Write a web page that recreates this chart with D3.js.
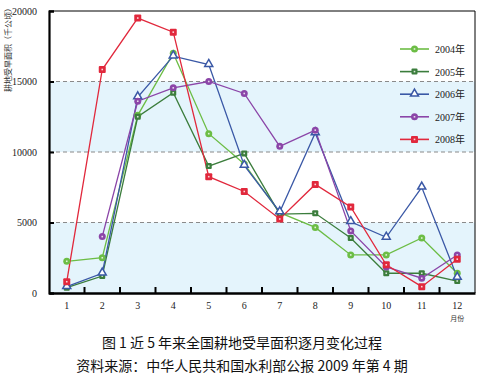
<!DOCTYPE html>
<html>
<head>
<meta charset="utf-8">
<script src="https://cdn.jsdelivr.net/npm/d3@7"></script>
<style>
  body { margin: 0; background: #fff; }
  svg { display: block; }
</style>
</head>
<body>
<div id="chart"></div>
<script>
// data (千公顷)
const months = ["1", "2", "3", "4", "5", "6", "7", "8", "9", "10", "11", "12"];
const yTicks = [0, 5000, 10000, 15000, 20000];
const years = ["2004年", "2005年", "2006年", "2007年", "2008年"];
const v2004 = [2250, 2500, 12600, 17000, 11300, 9150, 5700, 4650, 2700, 2700, 3900, 1400];
const v2005 = [380, 1200, 12500, 14200, 9000, 9900, 5600, 5650, 3900, 1400, 1400, 850];
const v2006 = [450, 1400, 13900, 16800, 16200, 9050, 5750, 11350, 5050, 3950, 7500, 1100];
const v2007 = [null, 4000, 13600, 14550, 15000, 14150, 10400, 11550, 4400, 1850, 1050, 2700];
const v2008 = [800, 15850, 19500, 18500, 8250, 7200, 5250, 7700, 6100, 2000, 450, 2400];

const seriesValues = [v2004, v2005, v2006, v2007, v2008];
const colors = ["#6cbd45", "#3b7d3c", "#3a58a6", "#8b45a8", "#e1283c"];
const markers = ["circle", "square", "triangle", "circle", "square"];

const W = 484, H = 377;
const margin = { top: 11, right: 9, bottom: 84, left: 49 };
const width = W - margin.left - margin.right;
const height = H - margin.top - margin.bottom;

const svg = d3.select("#chart").append("svg")
    .attr("width", W)
    .attr("height", H);

const g = svg.append("g")
    .attr("transform", `translate(${margin.left},${margin.top})`);

const x = d3.scaleBand().domain(months).range([0, width]);
const y = d3.scaleLinear().domain([0, 20000]).range([height, 0]);

// light blue bands
[[0, 5000], [10000, 15000]].forEach(b => {
    g.append("rect")
        .attr("x", 0)
        .attr("y", y(b[1]))
        .attr("width", width)
        .attr("height", y(b[0]) - y(b[1]))
        .attr("fill", "#e4f4fc");
});

// dashed grid
g.selectAll(".grid")
    .data([5000, 10000, 15000])
    .enter()
    .append("line")
    .attr("class", "grid")
    .attr("x1", 0)
    .attr("x2", width)
    .attr("y1", d => y(d))
    .attr("y2", d => y(d))
    .attr("stroke", "#8a8a8a")
    .attr("stroke-dasharray", "4,3")
    .attr("stroke-width", 1);

// top / right border
g.append("path")
    .attr("d", `M0,0H${width}V${height}`)
    .attr("fill", "none")
    .attr("stroke", "#000")
    .attr("stroke-width", 1);

// lines
const line = d3.line()
    .defined(d => d != null)
    .x((d, i) => x(months[i]) + x.bandwidth() / 2)
    .y(d => y(d));

seriesValues.forEach((vals, k) => {
    g.append("path")
        .datum(vals)
        .attr("fill", "none")
        .attr("stroke", colors[k])
        .attr("stroke-width", 1.3)
        .attr("d", line);
});

function drawMarker(sel, k) {
    const c = colors[k];
    if (markers[k] === "triangle") {
        sel.append("path")
            .attr("d", d3.symbol().type(d3.symbolTriangle).size(28)())
            .attr("transform", "translate(0,-0.5)")
            .attr("fill", "#fff")
            .attr("stroke", c)
            .attr("stroke-width", 1.5);
    } else {
        const r = markers[k] === "circle" ? 3.5 : 1;
        const s = k === 1 ? 6 : 7;
        sel.append("rect")
            .attr("x", -s / 2).attr("y", -s / 2)
            .attr("width", s).attr("height", s)
            .attr("rx", r)
            .attr("fill", c);
        sel.append("rect")
            .attr("x", -0.8).attr("y", -0.8)
            .attr("width", 1.6).attr("height", 1.6)
            .attr("fill", "#fff")
            .attr("opacity", 0.8);
    }
}

seriesValues.forEach((vals, k) => {
    const pts = g.selectAll(".pt" + k)
        .data(vals.map((v, i) => ({ v, m: months[i] })).filter(d => d.v != null))
        .enter()
        .append("g")
        .attr("class", "pt" + k)
        .attr("transform", d => `translate(${x(d.m) + x.bandwidth() / 2},${y(d.v)})`);
    pts.each(function() { drawMarker(d3.select(this), k); });
});

// axes
const yAxis = g.append("g")
    .call(d3.axisLeft(y).tickValues(yTicks).tickSize(-5).tickPadding(12).tickFormat(d3.format("d")));
yAxis.select(".domain").attr("stroke-width", 2.2);
yAxis.selectAll(".tick line").attr("stroke-width", 2);
yAxis.selectAll("text")
    .attr("font-family", "Liberation Serif, serif")
    .attr("font-size", 10)
    .attr("fill", "#222");

const xAxis = g.append("g")
    .attr("transform", `translate(0,${height})`)
    .call(d3.axisBottom(x).tickSize(0).tickPadding(9));
xAxis.select(".domain").attr("stroke-width", 2.4);
xAxis.selectAll("text")
    .attr("font-family", "Liberation Serif, serif")
    .attr("font-size", 10)
    .attr("fill", "#222");

// inward ticks at band boundaries
g.selectAll(".xtick")
    .data(months.slice(1))
    .enter()
    .append("line")
    .attr("class", "xtick")
    .attr("x1", d => x(d))
    .attr("x2", d => x(d))
    .attr("y1", height)
    .attr("y2", height - 6)
    .attr("stroke", "#000")
    .attr("stroke-width", 2);

// axis titles
svg.append("text")
    .attr("transform", "translate(11,48) rotate(-90)")
    .attr("text-anchor", "middle")
    .attr("font-family", "Noto Sans CJK SC")
    .attr("font-size", 8)
    .attr("fill", "#333")
    .text("耕地受旱面积（千公顷）");

svg.append("text")
    .attr("x", margin.left + x("12") + x.bandwidth() / 2)
    .attr("y", 321)
    .attr("text-anchor", "middle")
    .attr("font-family", "Noto Sans CJK SC")
    .attr("font-size", 7)
    .attr("fill", "#333")
    .text("月份");

// legend
const legend = svg.append("g").attr("transform", "translate(400,49)");
years.forEach((yr, k) => {
    const row = legend.append("g").attr("transform", `translate(0,${k * 22.6})`);
    row.append("line")
        .attr("x1", 0).attr("x2", 29)
        .attr("stroke", colors[k])
        .attr("stroke-width", 1.6);
    const mk = row.append("g").attr("transform", "translate(14.5,0)");
    drawMarker(mk, k);
    row.append("text")
        .attr("x", 35)
        .attr("y", 4)
        .attr("font-family", "Liberation Serif, Noto Sans CJK SC, serif")
        .attr("font-size", 10)
        .attr("fill", "#222")
        .text(yr);
});

// caption
const cap = ["图 1 近 5 年来全国耕地受旱面积逐月变化过程", "资料来源：中华人民共和国水利部公报 2009 年第 4 期"];
cap.forEach((t, i) => {
    svg.append("text")
        .attr("x", 242)
        .attr("y", 348 + i * 23)
        .attr("text-anchor", "middle")
        .attr("font-family", "Noto Sans CJK SC")
        .attr("font-size", 14)
        .attr("fill", "#111")
        .text(t);
});
</script>
</body>
</html>
